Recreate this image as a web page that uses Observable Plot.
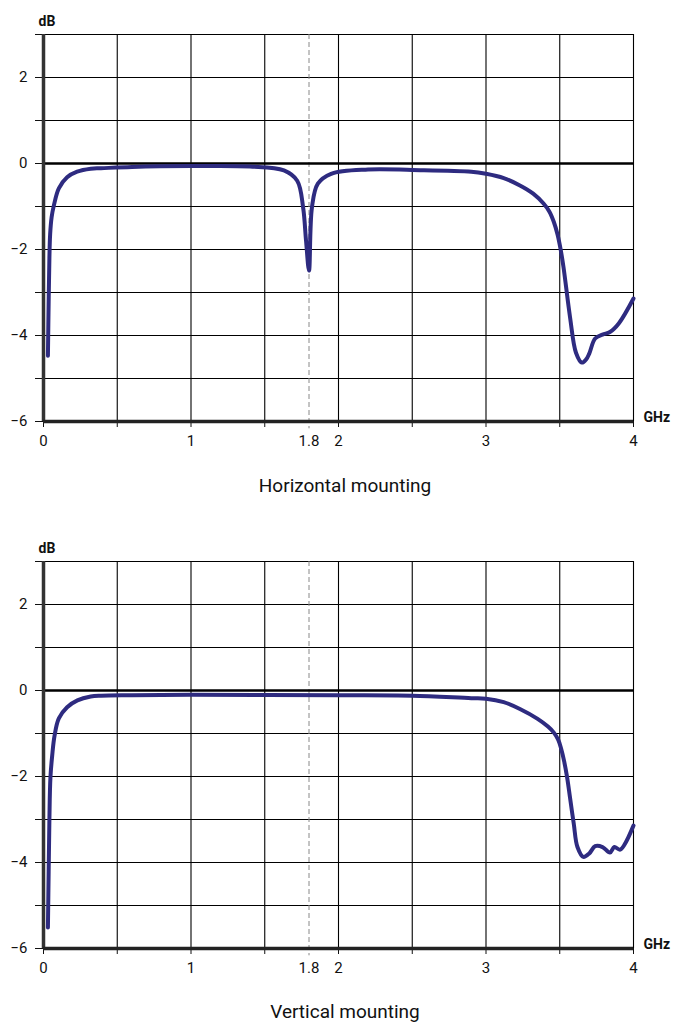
<!DOCTYPE html>
<html><head><meta charset="utf-8">
<script src="https://cdn.jsdelivr.net/npm/d3@7"></script>
<script src="https://cdn.jsdelivr.net/npm/@observablehq/plot@0.6"></script>
<style>
body{margin:0;background:#fff;font-family:Roboto,"Noto Sans",sans-serif}
#wrap{position:relative;width:673px;height:1027px;background:#fff}
.chart{position:absolute;left:0}
.title{position:absolute;left:0;width:690px;text-align:center;font-size:19px;line-height:19px;color:#111}
</style></head><body>
<div id="wrap">
 <div class="chart" id="c1" style="top:0"></div>
 <div class="title" style="top:476px">Horizontal mounting</div>
 <div class="chart" id="c2" style="top:527px"></div>
 <div class="title" style="top:1002px">Vertical mounting</div>
</div>
<script>
const horizontalFreq = [0.03,0.035,0.04,0.045,0.055,0.07,0.104,0.16,0.228,0.32,0.39,0.6,1.0,1.4,1.63,1.72,1.76,1.78,1.80,1.82,1.86,1.95,2.2,2.5,2.9,3.0,3.12,3.23,3.32,3.39,3.43,3.46,3.485,3.505,3.525,3.57,3.61,3.65,3.68,3.70,3.74,3.79,3.84,3.90,4.0];
const horizontalDb   = [-4.47,-3.2,-2.2,-1.65,-1.25,-0.98,-0.58,-0.32,-0.19,-0.12,-0.11,-0.08,-0.06,-0.07,-0.16,-0.4,-1.02,-1.8,-2.49,-1.02,-0.47,-0.24,-0.14,-0.15,-0.19,-0.24,-0.34,-0.51,-0.70,-0.93,-1.12,-1.36,-1.65,-1.98,-2.4,-3.58,-4.4,-4.63,-4.55,-4.42,-4.07,-3.98,-3.92,-3.72,-3.14];
const verticalFreq = [0.03,0.035,0.04,0.047,0.059,0.075,0.104,0.16,0.23,0.32,0.39,0.6,1.0,2.0,2.5,2.9,3.0,3.12,3.23,3.35,3.42,3.46,3.49,3.51,3.53,3.55,3.57,3.595,3.62,3.66,3.70,3.74,3.79,3.84,3.87,3.91,4.0];
const verticalDb   = [-5.51,-4.2,-3.0,-2.02,-1.51,-1.05,-0.65,-0.39,-0.23,-0.14,-0.12,-0.11,-0.1,-0.11,-0.12,-0.18,-0.19,-0.27,-0.43,-0.66,-0.84,-0.98,-1.15,-1.36,-1.65,-2.02,-2.5,-3.1,-3.64,-3.87,-3.79,-3.62,-3.64,-3.77,-3.64,-3.7,-3.14];
const xGridTicks = [0,0.5,1,1.5,2,2.5,3,3.5,4];
const xLabelTicks = [0,1,1.8,2,3,4];
const yTicks = [-6,-5,-4,-3,-2,-1,0,1,2,3];
const yLabelTicks = [-6,-4,-2,0,2];
const markerFreq = [1.8];
const xUnit = "GHz", yUnit = "dB";
const lineColor = "#2e2b80";

const fmt = d => d < 0 ? "\u2212" + Math.abs(d) : String(d);

function chart(freq, db) {
  const data = freq.map((f, i) => ({f, db: db[i]}));
  return Plot.plot({
    width: 673, height: 466,
    marginTop: 34, marginBottom: 45, marginLeft: 43, marginRight: 40,
    x: {domain: [0, 4]},
    y: {domain: [-6, 3]},
    style: {fontFamily: "Roboto, 'Noto Sans', sans-serif", fontSize: "15px", color: "#111", background: "#fff", overflow: "visible"},
    marks: [
      Plot.gridY(yTicks, {stroke: "#000", strokeOpacity: 1, strokeWidth: 1.1}),
      Plot.gridX(xGridTicks, {stroke: "#000", strokeOpacity: 1, strokeWidth: 1.1}),
      Plot.axisY(yTicks, {tickSize: 8, tickPadding: 8, tickFormat: d => yLabelTicks.includes(d) ? fmt(d) : "", label: null}),
      Plot.axisX(xGridTicks, {tickSize: 6, tickFormat: () => "", label: null}),
      Plot.axisX(xLabelTicks, {tickSize: 0, tickPadding: 14, tickFormat: d => String(d), label: null}),
      Plot.ruleX(markerFreq, {y1: 3, y2: -6.17, stroke: "#888", strokeWidth: 1, strokeDasharray: "5,3"}),
      Plot.ruleY([0], {stroke: "#000", strokeWidth: 2.5}),
      Plot.line(data, {x: "f", y: "db", stroke: lineColor, strokeWidth: 4, curve: "catmull-rom"}),
      Plot.ruleX([0], {stroke: "#333", strokeWidth: 3.5}),
      Plot.ruleY([-6], {stroke: "#222", strokeWidth: 3.5}),
      Plot.text([yUnit], {frameAnchor: "top-left", dx: -5, dy: -9, lineAnchor: "bottom", textAnchor: "start", fontWeight: "bold", fontSize: 14}),
      Plot.text([xUnit], {frameAnchor: "bottom-right", dx: 10, textAnchor: "start", fontWeight: "bold", fontSize: 14})
    ]
  });
}
document.getElementById("c1").append(chart(horizontalFreq, horizontalDb));
document.getElementById("c2").append(chart(verticalFreq, verticalDb));
</script>
</body></html>
